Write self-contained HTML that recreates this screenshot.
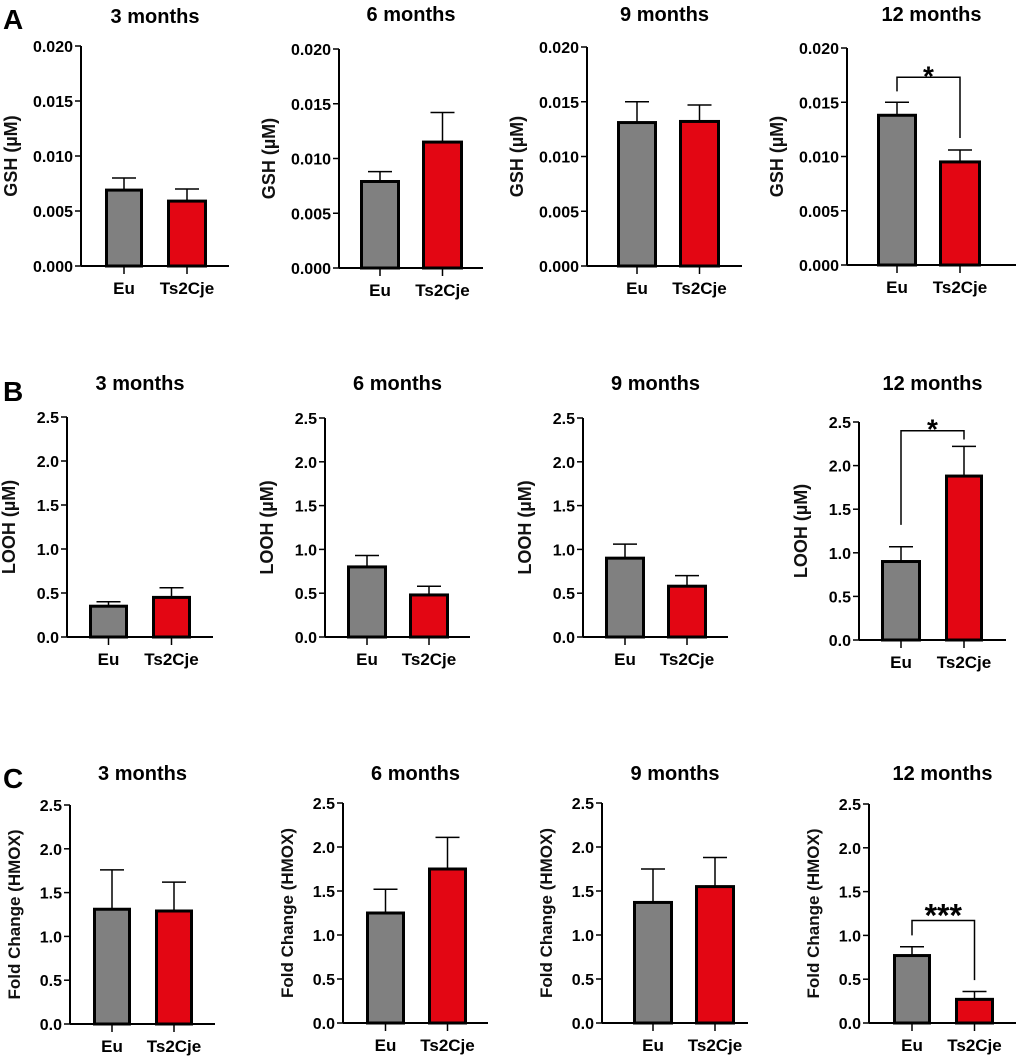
<!DOCTYPE html>
<html><head><meta charset="utf-8"><style>
body{margin:0;background:#fff;}
svg{display:block;font-family:"Liberation Sans",Arial,sans-serif;}
</style></head><body>
<svg id="fig" width="1020" height="1059" viewBox="0 0 1020 1059"></svg>
<script>
const categories = ["Eu","Ts2Cje"];
const timepoints = ["3 months","6 months","9 months","12 months"];
const gshMeans = [[0.0069,0.0059],[0.0079,0.0115],[0.0131,0.0132],[0.0138,0.0095]];
const gshErr   = [[0.0011,0.0011],[0.0009,0.0027],[0.0019,0.0015],[0.0012,0.0011]];
const loohMeans = [[0.35,0.45],[0.80,0.48],[0.90,0.58],[0.90,1.88]];
const loohErr   = [[0.05,0.11],[0.13,0.10],[0.16,0.12],[0.17,0.34]];
const hmoxMeans = [[1.31,1.29],[1.25,1.75],[1.37,1.55],[0.77,0.27]];
const hmoxErr   = [[0.45,0.33],[0.27,0.36],[0.38,0.33],[0.10,0.09]];
const gshTicks = ["0.000","0.005","0.010","0.015","0.020"];
const fcTicks = ["0.0","0.5","1.0","1.5","2.0","2.5"];
const gshSig = [3,0.0173,0.0160,0.0117,"*"];
const loohSig = [3,2.40,1.32,2.30,"*"];
const hmoxSig = [3,1.17,1.00,0.49,"***"];

const rows = [
 {letter:"A",ly:20,ylabel:"GSH (\u00b5M)",max:0.02,ticks:gshTicks,means:gshMeans,errs:gshErr,sig:gshSig,titleY:23,labOff:64,
  geo:[[81,46,266,229,105,143,167,207],[339,49,268,483,360,400,422,463],[587,47,266,742,617,657,679,720],[847,48,265,1016,877,917,939,981]]},
 {letter:"B",ly:392,ylabel:"LOOH (\u00b5M)",max:2.5,ticks:fcTicks,means:loohMeans,errs:loohErr,sig:loohSig,titleY:390,labOff:52,
  geo:[[67,417,637,213,89,128,152,191],[325,418,637,470,347,387,409,449],[583,418,637,728,605,645,667,707],[859,422,640,1006,881,921,945,983]]},
 {letter:"C",ly:779,ylabel:"Fold Change (HMOX)",max:2.5,ticks:fcTicks,means:hmoxMeans,errs:hmoxErr,sig:hmoxSig,titleY:780,labOff:50,
  geo:[[70,805,1024,215,93,131,155,193],[343,803,1023,488,366,405,428,467],[602,803,1023,748,633,673,695,735],[869,804,1023,1016,893,931,955,994]]}
];
const svg=document.getElementById('fig');
const NS="http://www.w3.org/2000/svg";
function mk(tag,attrs,parent){const e=document.createElementNS(NS,tag);for(const k in attrs)e.setAttribute(k,attrs[k]);(parent||svg).appendChild(e);return e;}
rows.forEach((r,ri)=>{
  const L=mk('text',{x:3,y:r.ly+9,'font-size':28,'font-weight':'bold'});L.textContent=r.letter;
  
  
  r.geo.forEach((g,pi)=>{
    const [ax,top,bot,xe,el,er,tl,tr]=g;
    const grp=mk('g',{});
    
    
    const y=v=>bot-(v/r.max)*(bot-top);
    const t=mk('text',{x:(ax+xe)/2,y:r.titleY+(ri==0&&pi>0?-2:0),'font-size':20,'font-weight':'bold','text-anchor':'middle'},grp);
    t.textContent=timepoints[pi];
    
    
    const yl=mk('text',{transform:`translate(${ax-r.labOff},${(top+bot)/2}) rotate(-90)`,'font-size':ri==2?17:18,'font-weight':'bold','text-anchor':'middle','fill':'#111'},grp);
    yl.textContent=r.ylabel;
    
    
    r.ticks.forEach((lab,i)=>{
      const v=r.max*i/(r.ticks.length-1);const yy=y(v);
      mk('line',{x1:ax-6,x2:ax,y1:yy,y2:yy,stroke:'#000','stroke-width':1.5},grp);
      const tt=mk('text',{x:ax-8,y:yy+6,'font-size':16,'font-weight':'bold','text-anchor':'end'},grp);
      tt.textContent=lab;
      
      
    });
    const bars=[[el,er,'#808080'],[tl,tr,'#e30613']];
    bars.forEach((b,bi)=>{
      const m=r.means[pi][bi],e=r.errs[pi][bi],cx=(b[0]+b[1])/2;
      mk('line',{x1:cx,x2:cx,y1:y(m),y2:y(m+e),stroke:'#000','stroke-width':1.5},grp);
      mk('line',{x1:cx-12,x2:cx+12,y1:y(m+e),y2:y(m+e),stroke:'#000','stroke-width':1.5},grp);
      const rc=mk('rect',{x:b[0]+1.5,y:y(m),width:b[1]-b[0]-3,height:bot-y(m),fill:b[2],stroke:'#000','stroke-width':3},grp);
      
      
      mk('line',{x1:cx,x2:cx,y1:bot,y2:bot+8,stroke:'#000','stroke-width':1.5},grp);
      const xl=mk('text',{x:cx,y:bot+28,'font-size':17,'font-weight':'bold','text-anchor':'middle'},grp);
      xl.textContent=categories[bi];
      
      
    });
    mk('line',{x1:ax,x2:ax,y1:top,y2:bot,stroke:'#000','stroke-width':2},grp);
    mk('line',{x1:ax,x2:xe,y1:bot,y2:bot,stroke:'#000','stroke-width':2},grp);
    if(r.sig[0]===pi){
      const cx1=(el+er)/2,cx2=(tl+tr)/2;
      const p=mk('path',{d:`M${cx1},${y(r.sig[2])}V${y(r.sig[1])}H${cx2}V${y(r.sig[3])}`,fill:'none',stroke:'#000','stroke-width':1.5},grp);
      
      
      const s=mk('text',{x:(cx1+cx2)/2,y:y(r.sig[1])+(r.sig[4].length>1?6:8),'font-size':r.sig[4].length>1?32:28,'font-weight':'bold','text-anchor':'middle'},grp);
      s.textContent=r.sig[4];
      
      
    }
  });
});
</script>
</body></html>
